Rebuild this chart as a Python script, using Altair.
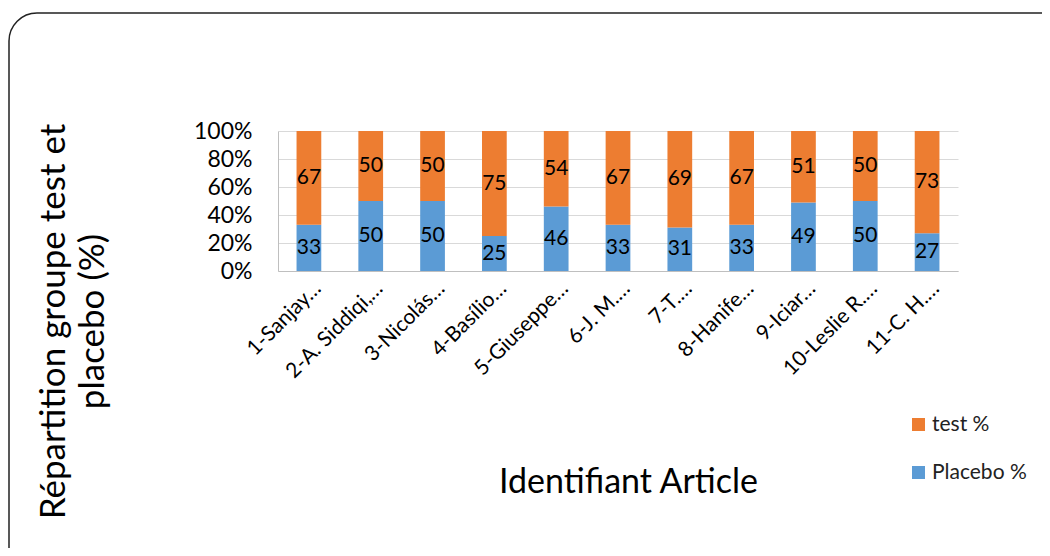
import altair as alt
import pandas as pd

articles = ["1-Sanjay…", "2-A. Siddiqi,…", "3-Nicolás…", "4-Basílio…", "5-Giuseppe…",
            "6-J. M.…", "7-T.…", "8-Hanife…", "9-Iciar…", "10-Leslie R.…", "11-C. H.…"]
placebo = [33, 50, 50, 25, 46, 33, 31, 33, 49, 50, 27]
test = [67, 50, 50, 75, 54, 67, 69, 67, 51, 50, 73]
series_names = ["test %", "Placebo %"]
colors = ["#ED7D31", "#5B9BD5"]
y_ticks = [0, 20, 40, 60, 80, 100]

rows = []
for a, p, t in zip(articles, placebo, test):
    rows.append({"article": a, "series": "Placebo %", "value": p, "ord": 0})
    rows.append({"article": a, "series": "test %", "value": t, "ord": 1})
df = pd.DataFrame(rows)

FONT = "Lato"

base = alt.Chart(df).transform_stack(
    stack="value", groupby=["article"], as_=["v0", "v1"],
    sort=[alt.SortField("ord", order="ascending")]
).transform_calculate(mid="(datum.v0 + datum.v1) / 2")

yscale = alt.Scale(domain=[0, 100], nice=False, zero=True)


def y_axis():
    return alt.Axis(values=y_ticks, labelExpr="datum.value + '%'",
                    labelOverlap=False, grid=True,
                    title=["Répartition groupe test et", "placebo (%)"],
                    titleFontSize=35, titleFontWeight="normal", titleAngle=270,
                    titleX=-225, titleY=190, titleAlign="center", titleBaseline="middle",
                    titleLineHeight=39, titleColor="#000000", titleFont=FONT,
                    labelFontSize=23, labelPadding=26, labelColor="#000000", labelFont=FONT,
                    ticks=False, domainColor="#BFBFBF", gridColor="#D9D9D9")


def x_enc():
    return alt.X("article:N", sort=articles,
                 scale=alt.Scale(paddingInner=0.6, paddingOuter=0.3),
                 axis=alt.Axis(title="Identifiant Article", labelAngle=315, labelAlign="right",
                               labelBaseline="middle", labelPadding=14, labelOffset=9,
                               labelFontSize=21, labelLimit=0, labelOverlap=False, ticks=False,
                               domainColor="#BFBFBF", grid=False,
                               titleFontSize=34, titleFontWeight="normal", titleX=350, titleY=211,
                               titleAlign="center", titleBaseline="middle", titleColor="#000000",
                               labelColor="#000000", labelFont=FONT, titleFont=FONT))


bars = base.mark_bar().encode(
    x=x_enc(),
    y=alt.Y("v0:Q", scale=yscale, axis=y_axis()),
    y2="v1:Q",
    color=alt.Color("series:N", scale=alt.Scale(domain=series_names, range=colors),
                    legend=alt.Legend(title=None, orient="none", legendX=630, legendY=283,
                                      symbolType="square", symbolSize=169, symbolStrokeWidth=0,
                                      labelFontSize=21, labelFont=FONT, labelColor="#222222",
                                      rowPadding=26, labelOffset=3)),
)

labels = base.mark_text(fontSize=21, font=FONT, color="#000000", baseline="middle").encode(
    x=x_enc(),
    y=alt.Y("mid:Q", scale=yscale, axis=y_axis()),
    text=alt.Text("value:Q"),
)

frame = alt.Chart(pd.DataFrame({"k": [0]})).mark_rect(
    filled=False, stroke="#222222", strokeWidth=1.5, cornerRadius=28
).encode(
    x=alt.value(-269), x2=alt.value(800), y=alt.value(-118), y2=alt.value(460)
)

chart = alt.layer(frame, bars, labels).properties(
    width=680, height=140,
    autosize=alt.AutoSizeParams(type="none"),
    padding={"left": 270, "top": 123, "right": 84, "bottom": 277},
).configure_view(stroke=None)

chart.save("out.html", embed_options={"renderer": "svg", "actions": False})
